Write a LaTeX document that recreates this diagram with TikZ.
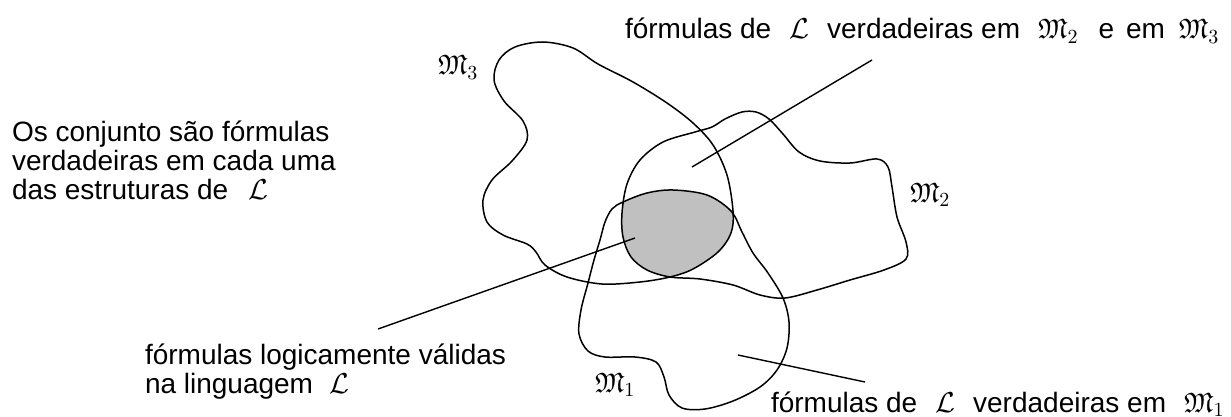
\documentclass[tikz,border=0pt]{standalone}
\usepackage{amssymb}
\usepackage{fontspec}
\setmainfont{Liberation Sans}
\definecolor{greyfill}{RGB}{192,192,192}
\tikzset{
  curve/.style={line width=0.75pt, black},
  leader/.style={line width=0.7pt, black},
  txt/.style={anchor=base west, inner sep=0pt, outer sep=0pt, font=\fontsize{14}{14.5}\selectfont},
}
\def\pMone{plot[smooth cycle, tension=0.55] coordinates {
 (623,202) (647,193) (673,190) (707,195) (731,211) (742,232) (753,253) (768,273)
 (783,298) (789,322) (787,348) (777,370) (760,387) (733,401) (705,409) (682,408)
 (669,395) (664,377) (656,362) (635,357) (605,357) (588,351) (579,334) (581,310)
 (588,283) (594,260) (600,240) (605,222) (612,209)}}
\def\pMtwo{plot[smooth cycle, tension=0.55] coordinates {
 (670,277) (647,270) (631,257) (623,237) (622,213) (627,184) (640,160) (663,142)
 (695,132) (712,127) (725,119) (742,112) (756,112) (769,119) (783,134) (799,152)
 (820,161) (850,163) (877,159) (888,167) (892,187) (897,217) (906,242) (906,259)
 (884,270) (850,280) (817,290) (785,298) (760,295) (733,285) (700,279)}}
\def\pMthree{plot[smooth cycle, tension=0.55] coordinates {
 (543,42) (573,48) (598,64) (633,82) (667,103) (693,123) (713,145) (727,175)
 (733,211) (731,233) (718,252) (693,269) (670,277) (640,282) (602,284) (567,277)
 (545,265) (536,252) (527,244) (503,235) (487,222) (483,200) (492,180) (512,161)
 (527,140) (523,121) (504,101) (494,80) (499,60) (515,47)}}
\begin{document}
\begin{tikzpicture}[x=0.5pt, y=-0.5pt]
\useasboundingbox (0,0) rectangle (1231,417);
% grey intersection
\begin{scope}
  \clip \pMone;
  \clip \pMtwo;
  \fill[greyfill] \pMthree;
\end{scope}
\draw[curve] \pMone;
\draw[curve] \pMtwo;
\draw[curve] \pMthree;
% labels of structures
\node[txt] (m3) at (438,75) {$\mathfrak{M}_3$};
\node[txt] (m2) at (910,202) {$\mathfrak{M}_2$};
\node[txt] (m1) at (595,392) {$\mathfrak{M}_1$};
% texts
\node[txt] (top) at (625,39) {fórmulas de\hspace{9pt}$\mathcal{L}$\hspace{9pt}verdadeiras em\hspace{9pt}$\mathfrak{M}_2$\hspace{10pt}e\hspace{6pt}em\hspace{7pt}$\mathfrak{M}_3$};
\node[txt] (l1) at (12,141) {Os conjunto são fórmulas};
\node[txt] (l2) at (12,170) {verdadeiras em cada uma};
\node[txt] (l3) at (12,199) {das estruturas de\hspace{10pt}$\mathcal{L}$};
\node[txt] (v1) at (145,364) {fórmulas logicamente válidas};
\node[txt] (v2) at (145,393) {na linguagem\hspace{8pt}$\mathcal{L}$};
\node[txt] (bot) at (771,412) {fórmulas de\hspace{9pt}$\mathcal{L}$\hspace{9pt}verdadeiras em\hspace{9pt}$\mathfrak{M}_1$};
% leader lines
\coordinate (a1) at (692,167);
\coordinate (a2) at (872,60);
\coordinate (b1) at (635,238);
\coordinate (b2) at (378,329);
\coordinate (c1) at (738,355);
\coordinate (c2) at (865,382);
\draw[leader] (a1) -- (a2);
\draw[leader] (b1) -- (b2);
\draw[leader] (c1) -- (c2);
\end{tikzpicture}
\end{document}
